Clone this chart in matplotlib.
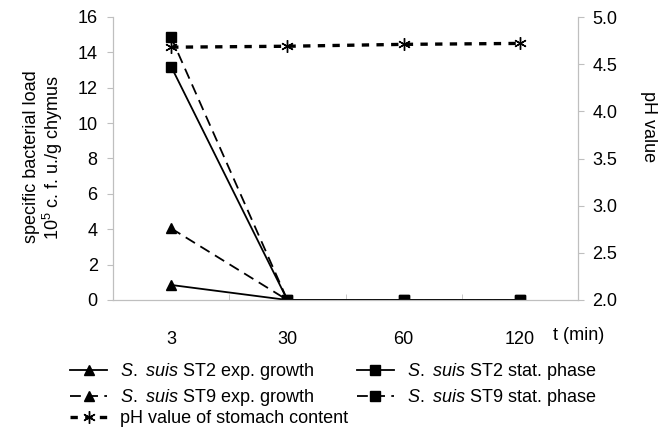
import numpy as np
import matplotlib
matplotlib.use("Agg")
from matplotlib import pyplot as plt

plt.rcParams['font.family'] = ['Liberation Sans', 'DejaVu Sans']
plt.rcParams['mathtext.fontset'] = 'custom'
plt.rcParams['mathtext.rm'] = 'Liberation Sans'
plt.rcParams['mathtext.it'] = 'Liberation Sans:italic'

# data
times = ['3', '30', '60', '120']
st2_exp = [0.85, 0, 0, 0]
st9_exp = [4.05, 0, 0, 0]
st2_stat = [13.2, 0, 0, 0]
st9_stat = [14.85, 0, 0, 0]
ph = [4.68, 4.69, 4.71, 4.72]

x = np.arange(len(times))
grey = '#bfbfbf'
fs = 13
ss = r'$\it{S.}$ $\it{suis}$'

fig = plt.figure(figsize=(6.6, 4.28), dpi=100)
ax = fig.add_axes([113/660, 1-300/428, 465/660, 283/428])
ax2 = ax.twinx()

dash = (0, (6, 3.5))
l1, = ax.plot(x, st2_exp, color='k', lw=1.3, marker='^', ms=7.5,
              label=ss + ' ST2 exp. growth')
l2, = ax.plot(x, st9_exp, color='k', lw=1.3, ls=dash, marker='^', ms=7.5,
              label=ss + ' ST9 exp. growth')
l4, = ax.plot(x, st2_stat, color='k', lw=1.3, marker='s', ms=7.5,
              label=ss + ' ST2 stat. phase')
l5, = ax.plot(x, st9_stat, color='k', lw=1.3, ls=dash, marker='s', ms=7.5,
              label=ss + ' ST9 stat. phase')
l3, = ax2.plot(x, ph, color='k', lw=2.4, ls=(0, (2.2, 2.2)), marker=(6, 2, 0),
               ms=9, mew=1, label='pH value of stomach content')

ax.set_xlim(-0.5, 3.5)
ax.set_ylim(0, 16)
ax.set_yticks(np.arange(0, 17, 2))
ax2.set_ylim(2.0, 5.0)
ph_ticks = np.arange(2.0, 5.01, 0.5)
ax2.set_yticks(ph_ticks)
ax2.set_yticklabels([f'{v:.1f}' for v in ph_ticks])

ax.set_xticks(x)
ax.set_xticklabels(times)
ax.set_xticks(np.arange(0.5, 3, 1), minor=True)
ax.tick_params(axis='x', which='major', length=0, pad=22, labelsize=fs)
ax.tick_params(axis='x', which='minor', direction='in', length=4, color=grey)
ax.tick_params(axis='y', length=4, color=grey, labelsize=fs, pad=7)
ax2.tick_params(axis='y', length=4, color=grey, labelsize=fs, pad=6.5)

for a in (ax, ax2):
    a.spines['top'].set_visible(False)
    for s in ('left', 'right', 'bottom'):
        a.spines[s].set_color(grey)

fig.text(44/660, 1-157/428, 'specific bacterial load\n10$^5$ c. f. u./g chymus',
         fontsize=fs, rotation=90, ha='center', va='center', linespacing=1.05,
         multialignment='center')
fig.text(648/660, 1-127/428, 'pH value', fontsize=fs, rotation=270,
         ha='center', va='center')
fig.text(553/660, 1-335/428, 't (min)', fontsize=fs, ha='left', va='center')

leg = fig.legend(handles=[l1, l2, l4, l5], ncol=2, loc='upper left',
                 bbox_to_anchor=(70/660, 1-361/428), frameon=False, fontsize=fs,
                 handlelength=2.05, handletextpad=0.7, columnspacing=2.4,
                 labelspacing=0.3, borderaxespad=0, borderpad=0)
fig.legend(handles=[l3], loc='upper left',
           bbox_to_anchor=(70/660, 1-410/428), frameon=False, fontsize=fs,
           handlelength=2.05, handletextpad=0.7, borderaxespad=0, borderpad=0)

fig.savefig('out.png', dpi=100)
